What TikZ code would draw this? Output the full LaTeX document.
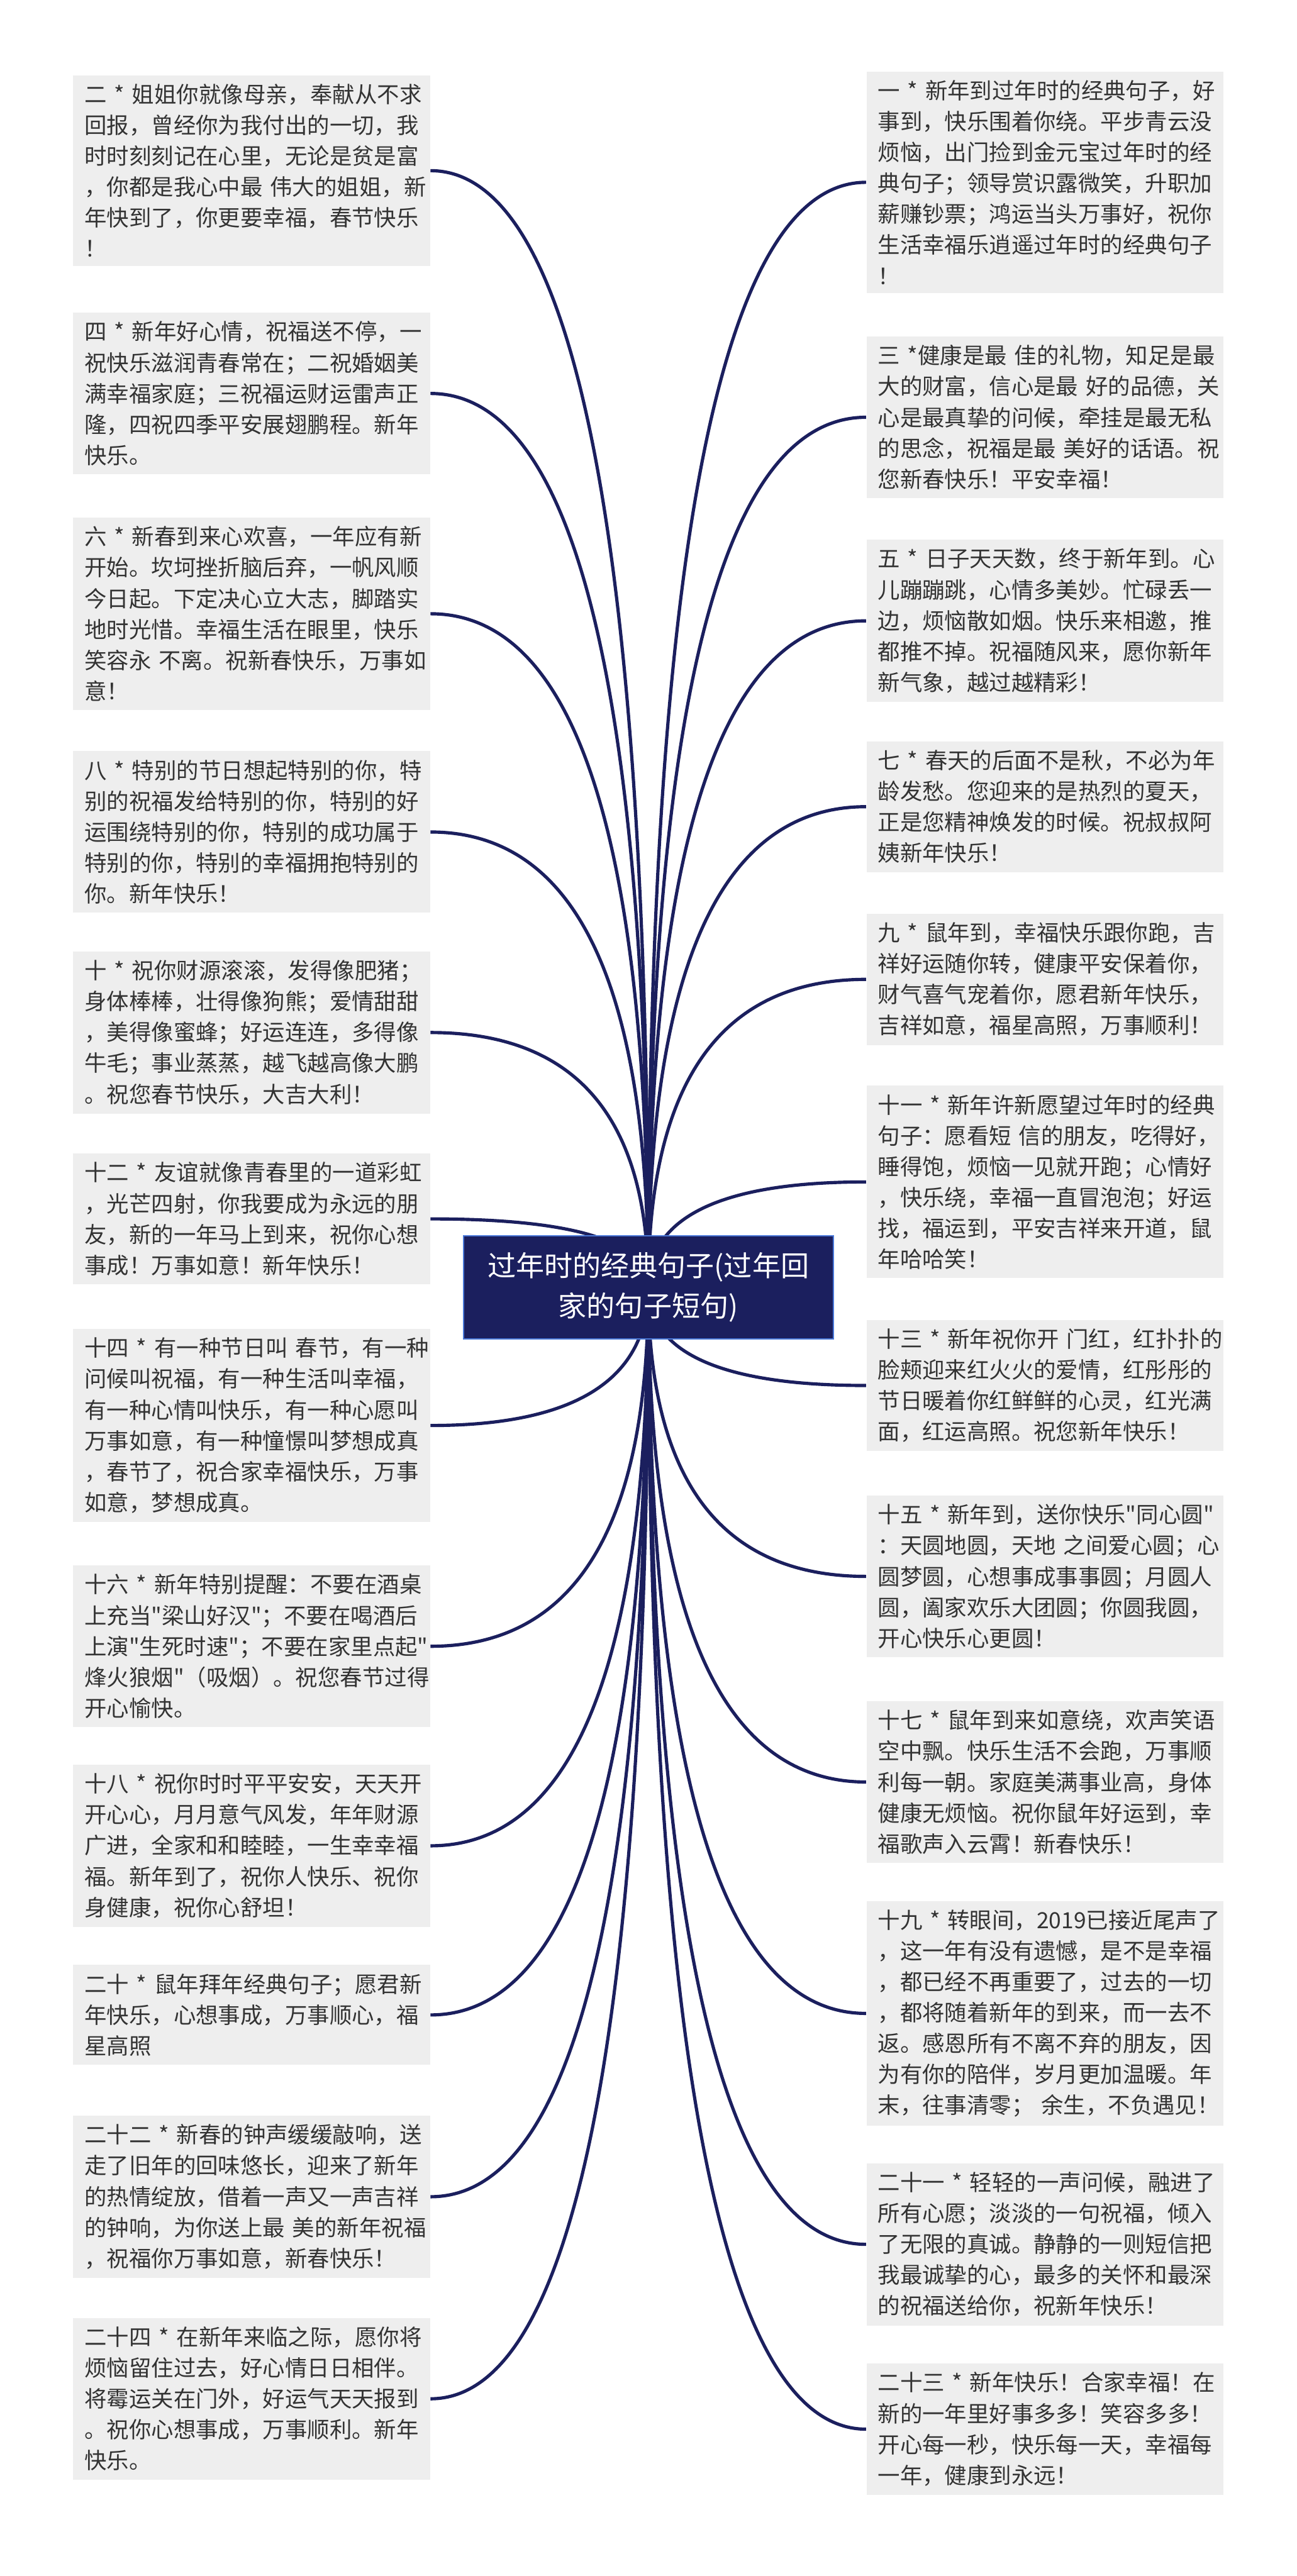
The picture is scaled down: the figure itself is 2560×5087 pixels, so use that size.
\documentclass[tikz,border=0pt]{standalone}
\usepackage{fontspec}
\setmainfont{Noto Sans CJK SC}
\usepackage{xcolor}
\usepackage{tikz}
\usetikzlibrary{calc,backgrounds}

\definecolor{rootblue}{HTML}{1B1F5E}
\definecolor{rimblue}{HTML}{4A78D8}
\definecolor{leafgray}{HTML}{EEEEEE}
\definecolor{inkgray}{HTML}{333333}

% straight double quote, as the picture prints it
\newcommand{\sq}{\XeTeXglyph\XeTeXcharglyph"22\relax}

\begin{document}
\begin{tikzpicture}[
    x=0.25pt, y=-0.25pt,
    root/.style={rectangle, draw=rimblue, line width=0.6pt, fill=rootblue, text=white, align=center, minimum width=182.5pt, minimum height=51pt, font=\fontsize{14}{20}\selectfont},
    leaf/.style={rectangle, fill=leafgray, text=inkgray, align=left, text width=165pt, inner xsep=5.6pt, inner ysep=4.3pt, font=\fontsize{11}{15.25}\selectfont},
    link/.style={draw=rootblue, line width=1.6pt, to path={.. controls ($(\tikztostart)!2/3!(\tikztostart |- \tikztotarget)$) and ($(\tikztotarget)!2/3!(\tikztostart |- \tikztotarget)$) .. (\tikztotarget)}}
]
    \useasboundingbox (0,0) rectangle (2560,5087);

    \node [root] (root) at (1280,2542) {过年时的经典句子(过年回\\家的句子短句)};

    % left column
    \node [leaf, anchor=east] (n2) at (850,337) {二~*~姐姐你就像母亲，奉献从不求\\回报，曾经你为我付出的一切，我\\时时刻刻记在心里，无论是贫是富\\，你都是我心中最~伟大的姐姐，新\\年快到了，你更要幸福，春节快乐\\！};
    \node [leaf, anchor=east] (n4) at (850,777) {四~*~新年好心情，祝福送不停，一\\祝快乐滋润青春常在；二祝婚姻美\\满幸福家庭；三祝福运财运雷声正\\隆，四祝四季平安展翅鹏程。新年\\快乐。};
    \node [leaf, anchor=east] (n6) at (850,1212) {六~*~新春到来心欢喜，一年应有新\\开始。坎坷挫折脑后弃，一帆风顺\\今日起。下定决心立大志，脚踏实\\地时光惜。幸福生活在眼里，快乐\\笑容永~不离。祝新春快乐，万事如\\意！};
    \node [leaf, anchor=east] (n8) at (850,1643) {八~*~特别的节日想起特别的你，特\\别的祝福发给特别的你，特别的好\\运围绕特别的你，特别的成功属于\\特别的你，特别的幸福拥抱特别的\\你。新年快乐！};
    \node [leaf, anchor=east] (n10) at (850,2039) {十~*~祝你财源滚滚，发得像肥猪；\\身体棒棒，壮得像狗熊；爱情甜甜\\，美得像蜜蜂；好运连连，多得像\\牛毛；事业蒸蒸，越飞越高像大鹏\\。祝您春节快乐，大吉大利！};
    \node [leaf, anchor=east] (n12) at (850,2407) {十二~*~友谊就像青春里的一道彩虹\\，光芒四射，你我要成为永远的朋\\友，新的一年马上到来，祝你心想\\事成！万事如意！新年快乐！};
    \node [leaf, anchor=east] (n14) at (850,2815) {十四~*~有一种节日叫~春节，有一种\\问候叫祝福，有一种生活叫幸福，\\有一种心情叫快乐，有一种心愿叫\\万事如意，有一种憧憬叫梦想成真\\，春节了，祝合家幸福快乐，万事\\如意，梦想成真。};
    \node [leaf, anchor=east] (n16) at (850,3251) {十六~*~新年特别提醒：不要在酒桌\\上充当\sq 梁山好汉\sq；不要在喝酒后\\上演\sq 生死时速\sq；不要在家里点起\sq\\烽火狼烟\sq（吸烟）。祝您春节过得\\开心愉快。};
    \node [leaf, anchor=east] (n18) at (850,3645) {十八~*~祝你时时平平安安，天天开\\开心心，月月意气风发，年年财源\\广进，全家和和睦睦，一生幸幸福\\福。新年到了，祝你人快乐、祝你\\身健康，祝你心舒坦！};
    \node [leaf, anchor=east] (n20) at (850,3979) {二十~*~鼠年拜年经典句子；愿君新\\年快乐，心想事成，万事顺心，福\\星高照};
    \node [leaf, anchor=east] (n22) at (850,4338) {二十二~*~新春的钟声缓缓敲响，送\\走了旧年的回味悠长，迎来了新年\\的热情绽放，借着一声又一声吉祥\\的钟响，为你送上最~美的新年祝福\\，祝福你万事如意，新春快乐！};
    \node [leaf, anchor=east] (n24) at (850,4737) {二十四~*~在新年来临之际，愿你将\\烦恼留住过去，好心情日日相伴。\\将霉运关在门外，好运气天天报到\\。祝你心想事成，万事顺利。新年\\快乐。};

    % right column
    \node [leaf, anchor=west] (n1) at (1710,360) {一~*~新年到过年时的经典句子，好\\事到，快乐围着你绕。平步青云没\\烦恼，出门捡到金元宝过年时的经\\典句子；领导赏识露微笑，升职加\\薪赚钞票；鸿运当头万事好，祝你\\生活幸福乐逍遥过年时的经典句子\\！};
    \node [leaf, anchor=west] (n3) at (1710,824) {三~*健康是最~佳的礼物，知足是最\\大的财富，信心是最~好的品德，关\\心是最真挚的问候，牵挂是最无私\\的思念，祝福是最~美好的话语。祝\\您新春快乐！平安幸福！};
    \node [leaf, anchor=west] (n5) at (1710,1226) {五~*~日子天天数，终于新年到。心\\儿蹦蹦跳，心情多美妙。忙碌丢一\\边，烦恼散如烟。快乐来相邀，推\\都推不掉。祝福随风来，愿你新年\\新气象，越过越精彩！};
    \node [leaf, anchor=west] (n7) at (1710,1593) {七~*~春天的后面不是秋，不必为年\\龄发愁。您迎来的是热烈的夏天，\\正是您精神焕发的时候。祝叔叔阿\\姨新年快乐！};
    \node [leaf, anchor=west] (n9) at (1710,1934) {九~*~鼠年到，幸福快乐跟你跑，吉\\祥好运随你转，健康平安保着你，\\财气喜气宠着你，愿君新年快乐，\\吉祥如意，福星高照，万事顺利！};
    \node [leaf, anchor=west] (n11) at (1710,2334) {十一~*~新年许新愿望过年时的经典\\句子：愿看短~信的朋友，吃得好，\\睡得饱，烦恼一见就开跑；心情好\\，快乐绕，幸福一直冒泡泡；好运\\找，福运到，平安吉祥来开道，鼠\\年哈哈笑！};
    \node [leaf, anchor=west] (n13) at (1710,2736) {十三~*~新年祝你开~门红，红扑扑的\\脸颊迎来红火火的爱情，红彤彤的\\节日暖着你红鲜鲜的心灵，红光满\\面，红运高照。祝您新年快乐！};
    \node [leaf, anchor=west] (n15) at (1710,3113) {十五~*~新年到，送你快乐\sq 同心圆\sq\\：天圆地圆，天地~之间爱心圆；心\\圆梦圆，心想事成事事圆；月圆人\\圆，阖家欢乐大团圆；你圆我圆，\\开心快乐心更圆！};
    \node [leaf, anchor=west] (n17) at (1710,3519) {十七~*~鼠年到来如意绕，欢声笑语\\空中飘。快乐生活不会跑，万事顺\\利每一朝。家庭美满事业高，身体\\健康无烦恼。祝你鼠年好运到，幸\\福歌声入云霄！新春快乐！};
    \node [leaf, anchor=west] (n19) at (1710,3976) {十九~*~转眼间，2019已接近尾声了\\，这一年有没有遗憾，是不是幸福\\，都已经不再重要了，过去的一切\\，都将随着新年的到来，而一去不\\返。感恩所有不离不弃的朋友，因\\为有你的陪伴，岁月更加温暖。年\\末，往事清零；~余生，不负遇见！};
    \node [leaf, anchor=west] (n21) at (1710,4432) {二十一~*~轻轻的一声问候，融进了\\所有心愿；淡淡的一句祝福，倾入\\了无限的真诚。静静的一则短信把\\我最诚挚的心，最多的关怀和最深\\的祝福送给你，祝新年快乐！};
    \node [leaf, anchor=west] (n23) at (1710,4797) {二十三~*~新年快乐！合家幸福！在\\新的一年里好事多多！笑容多多！\\开心每一秒，快乐每一天，幸福每\\一年，健康到永远！};

    % links, behind everything
    \begin{scope}[on background layer]
        \fill [white] (0,0) rectangle (2560,5087);
        \draw [link] (root.center) to (n2.east);
        \draw [link] (root.center) to (n4.east);
        \draw [link] (root.center) to (n6.east);
        \draw [link] (root.center) to (n8.east);
        \draw [link] (root.center) to (n10.east);
        \draw [link] (root.center) to (n12.east);
        \draw [link] (root.center) to (n14.east);
        \draw [link] (root.center) to (n16.east);
        \draw [link] (root.center) to (n18.east);
        \draw [link] (root.center) to (n20.east);
        \draw [link] (root.center) to (n22.east);
        \draw [link] (root.center) to (n24.east);
        \draw [link] (root.center) to (n1.west);
        \draw [link] (root.center) to (n3.west);
        \draw [link] (root.center) to (n5.west);
        \draw [link] (root.center) to (n7.west);
        \draw [link] (root.center) to (n9.west);
        \draw [link] (root.center) to (n11.west);
        \draw [link] (root.center) to (n13.west);
        \draw [link] (root.center) to (n15.west);
        \draw [link] (root.center) to (n17.west);
        \draw [link] (root.center) to (n19.west);
        \draw [link] (root.center) to (n21.west);
        \draw [link] (root.center) to (n23.west);
    \end{scope}
\end{tikzpicture}
\end{document}
